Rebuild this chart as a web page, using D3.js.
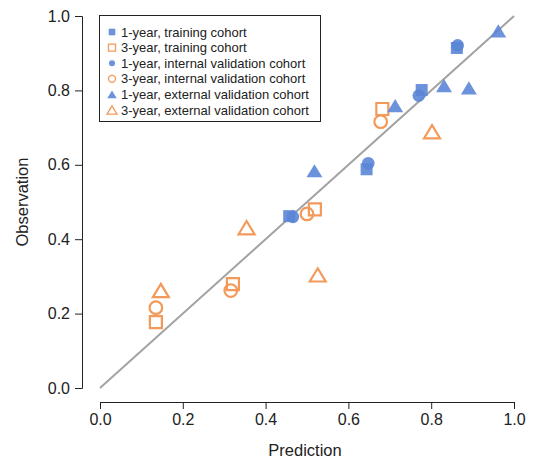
<!DOCTYPE html>
<html>
<head>
<meta charset="utf-8">
<script src="https://cdn.jsdelivr.net/npm/d3@7"></script>
<style>
  body { margin: 0; background: #fff; }
  text { font-family: "Liberation Sans", Arial, sans-serif; fill: #222; }
</style>
</head>
<body>
<script>
// calibration points (prediction, observation)
let train1x = [0.457, 0.644, 0.777, 0.862];
let train1y = [0.462, 0.588, 0.801, 0.914];
let train3x = [0.135, 0.321, 0.519, 0.682];
let train3y = [0.177, 0.279, 0.480, 0.750];
let int1x = [0.466, 0.648, 0.770, 0.864];
let int1y = [0.460, 0.604, 0.786, 0.921];
let int3x = [0.135, 0.316, 0.500, 0.678];
let int3y = [0.216, 0.262, 0.468, 0.716];
let ext1x = [0.518, 0.713, 0.831, 0.891, 0.962];
let ext1y = [0.584, 0.759, 0.813, 0.807, 0.960];
let ext3x = [0.147, 0.354, 0.526, 0.802];
let ext3y = [0.262, 0.431, 0.304, 0.689];

let ticks = [0, 0.2, 0.4, 0.6, 0.8, 1.0];
let legendNames = [
    "1-year, training cohort",
    "3-year, training cohort",
    "1-year, internal validation cohort",
    "3-year, internal validation cohort",
    "1-year, external validation cohort",
    "3-year, external validation cohort"
];

let w = 533;
let h = 461;
let blue = "#5b86d6";
let orange = "#f3995a";

let series = [
    {xs: train1x, ys: train1y, shape: "square", filled: true},
    {xs: train3x, ys: train3y, shape: "square", filled: false},
    {xs: int1x, ys: int1y, shape: "circle", filled: true},
    {xs: int3x, ys: int3y, shape: "circle", filled: false},
    {xs: ext1x, ys: ext1y, shape: "triangle", filled: true},
    {xs: ext3x, ys: ext3y, shape: "triangle", filled: false}
];

let x = d3.scaleLinear().domain([0, 1]).range([100, 514]);
let y = d3.scaleLinear().domain([0, 1]).range([388, 16]);

let svg = d3.select("body")
    .append("svg")
    .attr("width", w)
    .attr("height", h);

// axes, R style: detached from the plot area
let xAxis = svg.append("g")
    .attr("transform", "translate(0,402)")
    .call(d3.axisBottom(x).tickValues(ticks).tickFormat(d3.format(".1f")).tickSizeOuter(0).tickSize(7).tickPadding(5));
let yAxis = svg.append("g")
    .attr("transform", "translate(82,0)")
    .call(d3.axisLeft(y).tickValues(ticks).tickFormat(d3.format(".1f")).tickSizeOuter(0).tickSize(7).tickPadding(5));

[xAxis, yAxis].forEach(function(a) {
    a.selectAll("text").style("font-size", "16px").attr("fill", "#222");
    a.selectAll("line, path").attr("stroke", "#222");
});

svg.append("text")
    .attr("x", 305)
    .attr("y", 456)
    .attr("text-anchor", "middle")
    .style("font-size", "16.5px")
    .text("Prediction");

svg.append("text")
    .attr("transform", "translate(28,202) rotate(-90)")
    .attr("text-anchor", "middle")
    .style("font-size", "16.5px")
    .text("Observation");

// reference line
svg.append("line")
    .attr("x1", x(0)).attr("y1", y(0))
    .attr("x2", x(1)).attr("y2", y(1))
    .attr("stroke", "#a3a3a3")
    .attr("stroke-width", 2);

function markerPath(shape, s) {
    if (shape === "square") {
        return "M" + (-s) + "," + (-s) + "H" + s + "V" + s + "H" + (-s) + "Z";
    }
    if (shape === "circle") {
        return "M" + s + ",0A" + s + "," + s + " 0 1,1 " + (-s) + ",0A" + s + "," + s + " 0 1,1 " + s + ",0Z";
    }
    // triangle centred on its bounding box
    let hh = s * 0.87;
    return "M0," + (-hh) + "L" + (s * 1.05) + "," + hh + "L" + (-s * 1.05) + "," + hh + "Z";
}

function drawMarker(g, shape, filled, cx, cy, big) {
    let s;
    if (big) {
        if (shape === "square") s = 6;
        else if (shape === "circle") s = 6.3;
        else s = 7.6;
    } else {
        if (shape === "square") s = filled ? 3.3 : 3.5;
        else if (shape === "circle") s = filled ? 3 : 3.5;
        else s = filled ? 4.5 : 4.8;
    }
    let col = filled ? blue : orange;
    g.append("path")
        .attr("transform", "translate(" + cx + "," + cy + ")")
        .attr("d", markerPath(shape, s))
        .attr("fill", filled ? col : "none")
        .attr("fill-opacity", 0.9)
        .attr("stroke", filled ? "none" : col)
        .attr("stroke-width", big ? 2.2 : 1.3);
}

let pts = svg.append("g");
series.forEach(function(sr) {
    for (let i = 0; i < sr.xs.length; i++) {
        drawMarker(pts, sr.shape, sr.filled, x(sr.xs[i]), y(sr.ys[i]), true);
    }
});

// legend
let lg = svg.append("g");
lg.append("rect")
    .attr("x", 99.5).attr("y", 15.5)
    .attr("width", 221).attr("height", 106)
    .attr("fill", "white")
    .attr("stroke", "#222");

for (let k = 0; k < legendNames.length; k++) {
    let ly = 32 + k * 15.6;
    drawMarker(lg, series[k].shape, series[k].filled, 112, ly, false);
    lg.append("text")
        .attr("x", 121)
        .attr("y", ly + 4.5)
        .style("font-size", "13px")
        .text(legendNames[k]);
}
</script>
</body>
</html>
